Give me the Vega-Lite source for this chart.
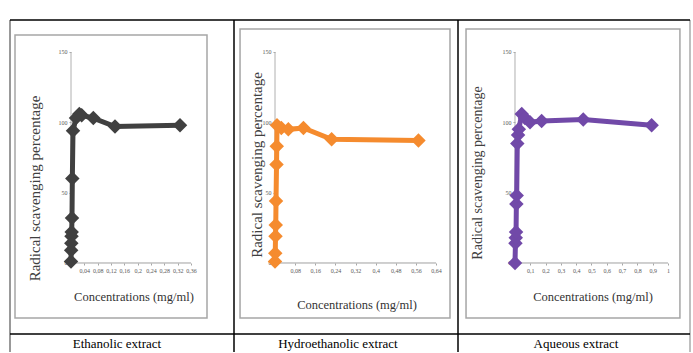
{
  "$schema": "https://vega.github.io/schema/vega-lite/v6.json",
  "autosize": {"type": "pad"},
  "padding": {"left": 9, "top": 19, "right": 0, "bottom": 0},
  "background": "white",
  "spacing": 0,
  "bounds": "flush",
  "config": {"view": {"stroke": null}, "font": "Liberation Serif", "axis": {"grid": false, "labelOverlap": false, "labelFlush": false, "labelBound": false}},
  "resolve": {"scale": {"x": "independent", "y": "independent"}},
  "datasets": {
    "ethanolic": [
      {"c": 0, "p": 1}, {"c": 0.0005, "p": 9}, {"c": 0.001, "p": 14}, {"c": 0.0015, "p": 19},
      {"c": 0.002, "p": 22}, {"c": 0.003, "p": 32}, {"c": 0.004, "p": 60}, {"c": 0.006, "p": 94},
      {"c": 0.015, "p": 103}, {"c": 0.025, "p": 106}, {"c": 0.032, "p": 105}, {"c": 0.067, "p": 103},
      {"c": 0.132, "p": 97}, {"c": 0.327, "p": 98}
    ],
    "hydro": [
      {"c": 0, "p": 1}, {"c": 0.001, "p": 7}, {"c": 0.002, "p": 19}, {"c": 0.003, "p": 27},
      {"c": 0.004, "p": 44}, {"c": 0.006, "p": 70}, {"c": 0.007, "p": 83}, {"c": 0.008, "p": 98},
      {"c": 0.025, "p": 96}, {"c": 0.053, "p": 95}, {"c": 0.113, "p": 96}, {"c": 0.225, "p": 88},
      {"c": 0.57, "p": 87}
    ],
    "aqueous": [
      {"c": 0, "p": 0}, {"c": 0.003, "p": 14}, {"c": 0.005, "p": 18}, {"c": 0.007, "p": 22},
      {"c": 0.009, "p": 42}, {"c": 0.011, "p": 48}, {"c": 0.015, "p": 85}, {"c": 0.02, "p": 91},
      {"c": 0.025, "p": 95}, {"c": 0.044, "p": 106}, {"c": 0.065, "p": 103}, {"c": 0.098, "p": 100},
      {"c": 0.174, "p": 101}, {"c": 0.446, "p": 102}, {"c": 0.893, "p": 98}
    ]
  },
  "hconcat": [
    {
      "width": 224, "height": 332,
      "layer": [
        {"data": {"values": [{}]}, "mark": {"type": "rect", "fill": null, "stroke": "#a6a6a6", "strokeWidth": 1.5},
         "encoding": {"x": {"datum": -0.168}, "x2": {"datum": 0.408}, "y": {"datum": 162.1}, "y2": {"datum": -39.1}}},
        {"data": {"values": [{}]}, "mark": {"type": "rule", "color": "#b0b0b0", "strokeWidth": 1},
         "encoding": {"x": {"datum": 0}, "y": {"datum": 0}, "y2": {"datum": 150}}},
        {"data": {"values": [{}]}, "mark": {"type": "rule", "color": "#a0a0a0", "strokeWidth": 1},
         "encoding": {"x": {"datum": 0}, "x2": {"datum": 0.36}, "y": {"datum": 0}}},
        {"data": {"values": [{}]}, "mark": {"type": "rule", "color": "#999999", "strokeWidth": 2},
         "encoding": {"x": {"datum": -0.183}}},
        {"data": {"values": [{}]}, "mark": {"type": "rule", "color": "#000000", "strokeWidth": 1.5},
         "encoding": {"y": {"datum": 172.74}}},
        {"data": {"values": [{}]}, "mark": {"type": "rule", "color": "#000000", "strokeWidth": 1.5},
         "encoding": {"y": {"datum": -50.5}}},
        {"data": {"values": [{}]}, "mark": {"type": "text", "text": "Radical scavenging percentage", "angle": 270, "font": "Liberation Serif", "fontSize": 15, "color": "#404040", "align": "center", "baseline": "middle"},
         "encoding": {"x": {"datum": -0.108}, "y": {"datum": 53}}},
        {"data": {"values": [{}]}, "mark": {"type": "text", "text": "Concentrations (mg/ml)", "font": "Liberation Serif", "fontSize": 12.5, "color": "#333333", "align": "center", "baseline": "middle"},
         "encoding": {"x": {"datum": 0.189}, "y": {"datum": -24.2}}},
        {"data": {"values": [{}]}, "mark": {"type": "text", "text": "Ethanolic extract", "font": "Liberation Serif", "fontSize": 13, "color": "#000000", "align": "center", "baseline": "middle"},
         "encoding": {"x": {"datum": 0.138}, "y": {"datum": -57.6}}},
        {"data": {"name": "ethanolic"},
         "mark": {"type": "line", "color": "#404040", "strokeWidth": 5, "point": {"shape": "diamond", "size": 210, "filled": true, "color": "#404040", "opacity": 1}},
         "encoding": {
           "x": {"field": "c", "type": "quantitative", "scale": {"domain": [-0.183, 0.489], "nice": false, "zero": false},
                 "axis": {"values": [0.04, 0.08, 0.12, 0.16, 0.2, 0.24, 0.28, 0.32, 0.36], "tickCount": 50, "offset": -89, "domain": false, "tickSize": 2, "tickColor": "#a6a6a6", "labelFontSize": 6, "labelColor": "#595959", "labelFont": "Liberation Serif", "labelPadding": 2, "labelOverlap": false, "labelFlush": false, "labelExpr": "replace(format(datum.value, '.2~f'), '.', ',')", "title": null}},
           "y": {"field": "p", "type": "quantitative", "scale": {"domain": [-63.27, 172.74], "nice": false, "zero": false},
                 "axis": {"values": [0, 50, 100, 150], "tickCount": 50, "offset": -61, "domain": false, "tickSize": 2, "tickColor": "#a6a6a6", "labelFontSize": 6, "labelColor": "#595959", "labelFont": "Liberation Serif", "labelPadding": 2, "labelOverlap": false, "labelFlush": false, "title": null}}
         }}
      ]
    },
    {
      "width": 224, "height": 332,
      "layer": [
        {"data": {"values": [{}]}, "mark": {"type": "rect", "fill": null, "stroke": "#a6a6a6", "strokeWidth": 1.5},
         "encoding": {"x": {"datum": -0.139}, "x2": {"datum": 0.6955}, "y": {"datum": 166.3}, "y2": {"datum": -39.1}}},
        {"data": {"values": [{}]}, "mark": {"type": "rule", "color": "#b0b0b0", "strokeWidth": 1},
         "encoding": {"x": {"datum": 0}, "y": {"datum": 0}, "y2": {"datum": 150}}},
        {"data": {"values": [{}]}, "mark": {"type": "rule", "color": "#a0a0a0", "strokeWidth": 1},
         "encoding": {"x": {"datum": 0}, "x2": {"datum": 0.64}, "y": {"datum": 0}}},
        {"data": {"values": [{}]}, "mark": {"type": "rule", "color": "#000000", "strokeWidth": 1.5},
         "encoding": {"x": {"datum": -0.163}}},
        {"data": {"values": [{}]}, "mark": {"type": "rule", "color": "#000000", "strokeWidth": 1.5},
         "encoding": {"y": {"datum": 172.74}}},
        {"data": {"values": [{}]}, "mark": {"type": "rule", "color": "#000000", "strokeWidth": 1.5},
         "encoding": {"y": {"datum": -50.5}}},
        {"data": {"values": [{}]}, "mark": {"type": "text", "text": "Radical scavenging percentage", "angle": 270, "font": "Liberation Serif", "fontSize": 15, "color": "#404040", "align": "center", "baseline": "middle"},
         "encoding": {"x": {"datum": -0.0715}, "y": {"datum": 69.7}}},
        {"data": {"values": [{}]}, "mark": {"type": "text", "text": "Concentrations (mg/ml)", "font": "Liberation Serif", "fontSize": 12.5, "color": "#333333", "align": "center", "baseline": "middle"},
         "encoding": {"x": {"datum": 0.326}, "y": {"datum": -29.9}}},
        {"data": {"values": [{}]}, "mark": {"type": "text", "text": "Hydroethanolic extract", "font": "Liberation Serif", "fontSize": 13, "color": "#000000", "align": "center", "baseline": "middle"},
         "encoding": {"x": {"datum": 0.25}, "y": {"datum": -57.6}}},
        {"data": {"name": "hydro"},
         "mark": {"type": "line", "color": "#F58B2E", "strokeWidth": 5, "point": {"shape": "diamond", "size": 210, "filled": true, "color": "#F58B2E", "opacity": 1}},
         "encoding": {
           "x": {"field": "c", "type": "quantitative", "scale": {"domain": [-0.163, 0.7273], "nice": false, "zero": false},
                 "axis": {"values": [0.08, 0.16, 0.24, 0.32, 0.4, 0.48, 0.56, 0.64], "tickCount": 50, "offset": -89, "domain": false, "tickSize": 2, "tickColor": "#a6a6a6", "labelFontSize": 6, "labelColor": "#595959", "labelFont": "Liberation Serif", "labelPadding": 2, "labelOverlap": false, "labelFlush": false, "labelExpr": "replace(format(datum.value, '.2~f'), '.', ',')", "title": null}},
           "y": {"field": "p", "type": "quantitative", "scale": {"domain": [-63.27, 172.74], "nice": false, "zero": false},
                 "axis": {"values": [0, 50, 100, 150], "tickCount": 50, "offset": -41, "domain": false, "tickSize": 2, "tickColor": "#a6a6a6", "labelFontSize": 6, "labelColor": "#595959", "labelFont": "Liberation Serif", "labelPadding": 2, "labelOverlap": false, "labelFlush": false, "title": null}}
         }}
      ]
    },
    {
      "width": 232, "height": 332,
      "layer": [
        {"data": {"values": [{}]}, "mark": {"type": "rect", "fill": null, "stroke": "#a6a6a6", "strokeWidth": 1.5},
         "encoding": {"x": {"datum": -0.32}, "x2": {"datum": 1.078}, "y": {"datum": 166.3}, "y2": {"datum": -39.1}}},
        {"data": {"values": [{}]}, "mark": {"type": "rule", "color": "#b0b0b0", "strokeWidth": 1},
         "encoding": {"x": {"datum": 0}, "y": {"datum": 0}, "y2": {"datum": 150}}},
        {"data": {"values": [{}]}, "mark": {"type": "rule", "color": "#a0a0a0", "strokeWidth": 1},
         "encoding": {"x": {"datum": 0}, "x2": {"datum": 1}, "y": {"datum": 0}}},
        {"data": {"values": [{}]}, "mark": {"type": "rule", "color": "#000000", "strokeWidth": 1.5},
         "encoding": {"x": {"datum": -0.3725}}},
        {"data": {"values": [{}]}, "mark": {"type": "rule", "color": "#aaaaaa", "strokeWidth": 1.5},
         "encoding": {"x": {"datum": 1.1438}}},
        {"data": {"values": [{}]}, "mark": {"type": "rule", "color": "#000000", "strokeWidth": 1.5},
         "encoding": {"y": {"datum": 172.74}}},
        {"data": {"values": [{}]}, "mark": {"type": "rule", "color": "#000000", "strokeWidth": 1.5},
         "encoding": {"y": {"datum": -50.5}}},
        {"data": {"values": [{}]}, "mark": {"type": "text", "text": "Radical scavenging percentage", "angle": 270, "font": "Liberation Serif", "fontSize": 14, "color": "#404040", "align": "center", "baseline": "middle"},
         "encoding": {"x": {"datum": -0.242}, "y": {"datum": 64}}},
        {"data": {"values": [{}]}, "mark": {"type": "text", "text": "Concentrations (mg/ml)", "font": "Liberation Serif", "fontSize": 12.5, "color": "#333333", "align": "center", "baseline": "middle"},
         "encoding": {"x": {"datum": 0.51}, "y": {"datum": -24.2}}},
        {"data": {"values": [{}]}, "mark": {"type": "text", "text": "Aqueous extract", "font": "Liberation Serif", "fontSize": 13, "color": "#000000", "align": "center", "baseline": "middle"},
         "encoding": {"x": {"datum": 0.399}, "y": {"datum": -57.6}}},
        {"data": {"name": "aqueous"},
         "mark": {"type": "line", "color": "#7149A8", "strokeWidth": 5, "point": {"shape": "diamond", "size": 210, "filled": true, "color": "#7149A8", "opacity": 1}},
         "encoding": {
           "x": {"field": "c", "type": "quantitative", "scale": {"domain": [-0.3725, 1.1438], "nice": false, "zero": false},
                 "axis": {"values": [0.1, 0.2, 0.3, 0.4, 0.5, 0.6, 0.7, 0.8, 0.9, 1], "tickCount": 50, "offset": -89, "domain": false, "tickSize": 2, "tickColor": "#a6a6a6", "labelFontSize": 6, "labelColor": "#595959", "labelFont": "Liberation Serif", "labelPadding": 2, "labelOverlap": false, "labelFlush": false, "labelExpr": "replace(format(datum.value, '.2~f'), '.', ',')", "title": null}},
           "y": {"field": "p", "type": "quantitative", "scale": {"domain": [-63.27, 172.74], "nice": false, "zero": false},
                 "axis": {"values": [0, 50, 100, 150], "tickCount": 50, "offset": -57, "domain": false, "tickSize": 2, "tickColor": "#a6a6a6", "labelFontSize": 6, "labelColor": "#595959", "labelFont": "Liberation Serif", "labelPadding": 2, "labelOverlap": false, "labelFlush": false, "title": null}}
         }}
      ]
    }
  ]
}
